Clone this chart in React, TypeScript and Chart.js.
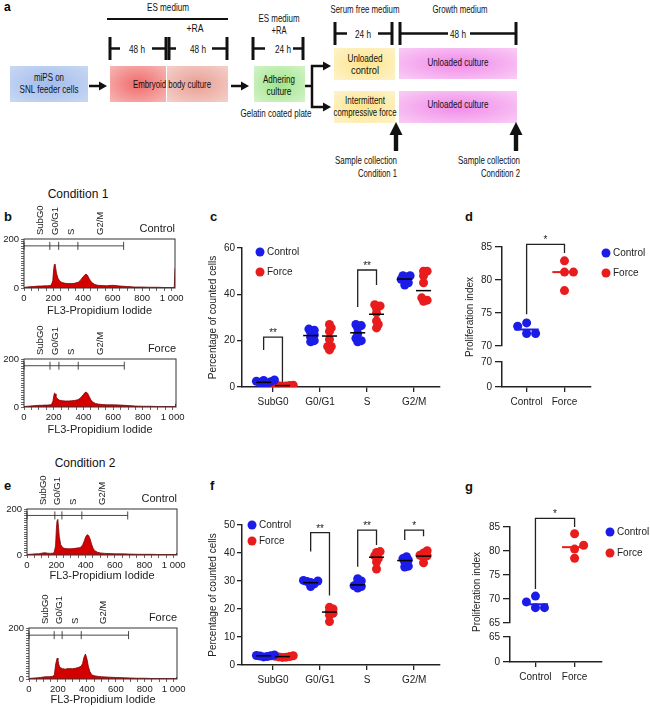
import React, { useEffect, useRef } from 'react';
import { Chart, registerables } from 'chart.js';

Chart.register(...registerables);

const FONT = "'Liberation Sans', Arial, Helvetica, sans-serif";
Chart.defaults.font.family = FONT;
Chart.defaults.color = '#222';

// ---------------- data ----------------
const PHASES = ['SubG0', 'G0/G1', 'S', 'G2/M'];
const GROUPS = ['Control', 'Force'];

// flow-cytometry histograms (FL3 channel vs counts)
const histX = [0, 20, 40, 60, 80, 100, 120, 140, 160, 175, 185, 195, 200, 205, 210, 215, 220, 230, 240, 250, 260, 280, 300, 320, 340, 360, 370, 380, 390, 400, 410, 420, 430, 440, 450, 460, 480, 500, 530, 560, 600, 650, 700, 750, 800, 850, 900, 950, 1000, 1018, 1023];
const c1ControlCounts = [2, 4, 5, 6, 7, 8, 8, 9, 9, 10, 12, 30, 70, 95, 98, 80, 60, 40, 30, 25, 22, 19, 18, 18, 19, 22, 25, 30, 38, 46, 52, 57, 52, 40, 30, 22, 14, 11, 10, 9, 11, 8, 6, 4, 4, 3, 3, 2, 2, 2, 80];
const c1ForceCounts = [2, 3, 4, 5, 6, 7, 7, 8, 8, 9, 10, 25, 45, 58, 55, 45, 38, 32, 28, 27, 26, 25, 25, 26, 27, 30, 33, 38, 45, 52, 60, 62, 55, 42, 30, 22, 15, 12, 10, 9, 9, 8, 6, 4, 3, 3, 2, 2, 2, 2, 15];
const c2ControlCounts = [2, 3, 4, 5, 5, 8, 10, 8, 7, 8, 10, 40, 110, 150, 155, 120, 80, 45, 35, 30, 28, 27, 27, 28, 30, 32, 35, 45, 60, 78, 88, 85, 70, 48, 30, 20, 12, 9, 7, 6, 5, 5, 4, 3, 3, 3, 2, 2, 2, 2, 10];
const c2ForceCounts = [2, 3, 4, 5, 6, 8, 9, 9, 10, 15, 60, 82, 75, 60, 50, 45, 42, 40, 40, 38, 40, 41, 40, 42, 45, 50, 60, 85, 98, 80, 50, 30, 20, 15, 13, 12, 10, 9, 8, 7, 6, 5, 4, 3, 3, 2, 2, 2, 2, 2, 8];

const gateNames = ['SubG0', 'G0/G1', 'S', 'G2/M'];
const gateLabelX = [110, 210, 318, 515];
const c1ControlGates = [0, 175, 235, 365, 675];
const c1ForceGates = [0, 175, 235, 365, 675];
const c2ControlGates = [0, 190, 238, 374, 687];
const c2ForceGates = [0, 174, 229, 361, 688];
const GATE_LEVEL = 172;

// percentage of counted cells, condition 1 (panel c)
const c1ControlSubG0 = [1.2, 1.8, 2.3, 2.8, 3.0, 1.5, 2.5];
const c1ControlG0G1 = [19.5, 20.0, 21.5, 22.5, 23.5, 24.5, 25.0];
const c1ControlS = [19.5, 20.0, 21.0, 23.0, 25.5, 26.5, 27.0];
const c1ControlG2M = [44.0, 45.0, 46.0, 46.5, 47.5, 48.0, 48.0];
const c1ForceSubG0 = [0.3, 0.5, 0.6, 0.8, 0.9, 0.4, 0.7];
const c1ForceG0G1 = [16.0, 17.5, 17.5, 20.5, 24.0, 25.5, 27.0];
const c1ForceS = [25.5, 27.0, 28.5, 32.0, 34.0, 35.0, 35.5];
const c1ForceG2M = [37.0, 37.5, 38.5, 45.0, 48.0, 50.0, 50.0];
const c1ControlLine = [2.0, 22.2, 23.4, 46.6];
const c1ForceLine = [0.6, 22.0, 31.4, 41.6];
const c1SigPhase = [1, 3];
const c1SigLeft = [16, 34.5];
const c1SigRight = [2, 44];
const c1SigTop = [21.5, 50.5];
const c1SigText = ['**', '**'];

// percentage of counted cells, condition 2 (panel f)
const c2ControlSubG0 = [2.9, 3.2, 3.4, 3.6, 3.3, 3.0];
const c2ControlG0G1 = [28.0, 29.0, 29.5, 29.8, 30.2, 30.0];
const c2ControlS = [27.5, 28.0, 28.3, 29.5, 30.0, 30.8];
const c2ControlG2M = [35.0, 35.3, 36.8, 37.5, 38.0, 38.7];
const c2ForceSubG0 = [2.7, 2.9, 3.1, 3.3, 3.0, 2.8];
const c2ForceG0G1 = [15.5, 17.8, 18.5, 19.2, 20.0, 20.6];
const c2ForceS = [34.3, 36.8, 38.0, 39.0, 40.2, 40.5];
const c2ForceG2M = [36.5, 38.5, 39.0, 39.2, 40.0, 40.8];
const c2ControlLine = [3.3, 29.4, 28.6, 37.3];
const c2ForceLine = [3.0, 18.9, 38.5, 38.9];
const c2SigPhase = [2, 3, 4];
const c2SigLeft = [40.5, 35.1, 44.6];
const c2SigRight = [24.8, 42.9, 46.0];
const c2SigTop = [47.3, 48.2, 48.2];
const c2SigText = ['**', '**', '*'];

// proliferation index
const dControl = [73.0, 71.9, 73.5, 71.9];
const dForce = [82.9, 81.2, 81.2, 78.4];
const dLines = [72.5, 81.2];
const dSig = { left: 74.8, right: 84.1, top: 85.4, text: '*' };
const gControl = [68.2, 69.4, 70.6, 68.2];
const gForce = [83.6, 81.2, 80.4, 78.5];
const gLines = [68.9, 80.8];
const gSig = { left: 72.1, right: 85.0, top: 86.8, text: '*' };

// ---------------- style ----------------
const AX = '#222';
const BLUE = '#1c1ce8';
const RED = '#e81c1c';
const R = 4.5;

// beeswarm layout: horizontal offsets (in x units) so dots do not pile up
function swarm(vals: number[], pxPerY: number, pxPerX: number, minD: number, step: number): number[] {
  const order = vals.map((_, i) => i).sort((a, b) => vals[a] - vals[b]);
  const placed: { x: number; y: number }[] = [];
  const res: number[] = new Array(vals.length).fill(0);
  for (const i of order) {
    const py = vals[i] * pxPerY;
    let best = 0;
    for (let k = 0; k < 60; k++) {
      const cand = k === 0 ? 0 : (k % 2 ? 1 : -1) * Math.ceil(k / 2) * step;
      if (placed.every((p) => Math.hypot(p.x - cand, p.y - py) >= minD)) {
        best = cand;
        break;
      }
    }
    placed.push({ x: best, y: py });
    res[i] = best / pxPerX;
  }
  return res;
}

function groupPoints(groups: number[][], base: number[], pxPerY: number, pxPerX: number, minD: number, step: number) {
  return groups.flatMap((vals, i) => {
    const off = swarm(vals, pxPerY, pxPerX, minD, step);
    return vals.map((v, j) => ({ x: base[i] + off[j], y: v }));
  });
}

function drawLegend(ctx: CanvasRenderingContext2D, x0: number, y0: number, gap: number) {
  GROUPS.forEach((g, i) => {
    ctx.fillStyle = i ? RED : BLUE;
    ctx.beginPath();
    ctx.arc(x0, y0 + i * gap, R, 0, Math.PI * 2);
    ctx.fill();
    ctx.fillStyle = AX;
    ctx.font = `10px ${FONT}`;
    ctx.textAlign = 'left';
    ctx.textBaseline = 'middle';
    ctx.fillText(g, x0 + 7, y0 + i * gap);
  });
}

function drawBracket(ctx: CanvasRenderingContext2D, xl: number, xr: number, yl: number, yr: number, yt: number, text: string) {
  ctx.strokeStyle = AX;
  ctx.lineWidth = 1.3;
  ctx.beginPath();
  ctx.moveTo(xl, yl);
  ctx.lineTo(xl, yt);
  ctx.lineTo(xr, yt);
  ctx.lineTo(xr, yr);
  ctx.stroke();
  ctx.fillStyle = AX;
  ctx.font = `10px ${FONT}`;
  ctx.textAlign = 'center';
  ctx.textBaseline = 'alphabetic';
  ctx.fillText(text, (xl + xr) / 2, yt - 1);
}

// ---------------- chart configs ----------------
function histConfig(counts: number[], gates: number[], label: string, pad: { top: number; right: number }, xH: number) {
  return {
    type: 'line',
    data: {
      datasets: [
        {
          data: histX.map((x, i) => ({ x, y: counts[i] })),
          fill: 'origin',
          borderColor: '#7a0000',
          backgroundColor: '#d40000',
          borderWidth: 0.8,
          pointRadius: 0,
          tension: 0,
        },
      ],
    },
    options: {
      responsive: false,
      animation: false,
      events: [],
      layout: { padding: { top: pad.top, right: pad.right, left: 0, bottom: 0 } },
      plugins: { legend: { display: false }, tooltip: { enabled: false } },
      scales: {
        x: {
          type: 'linear',
          min: 0,
          max: 1023,
          afterBuildTicks: (s: any) => {
            const t = [];
            for (let v = 0; v <= 1000; v += 50) t.push({ value: v });
            s.ticks = t;
          },
          ticks: {
            autoSkip: false,
            maxRotation: 0,
            padding: 2,
            font: { size: 9.5 },
            color: AX,
            callback: (v: number) => (v % 200 === 0 ? (v === 1000 ? '1 000' : String(v)) : ''),
          },
          grid: { display: true, drawOnChartArea: false, tickLength: 3, color: '#444', lineWidth: 0.8 },
          border: { display: false },
          title: { display: true, text: 'FL3-Propidium Iodide', font: { size: 11 }, color: AX, padding: { top: 0, bottom: 0 } },
          afterFit: (s: any) => {
            s.height = xH;
          },
        },
        y: {
          min: 0,
          max: 200,
          afterBuildTicks: (s: any) => {
            const t = [];
            for (let v = 0; v <= 200; v += 10) t.push({ value: v });
            s.ticks = t;
          },
          ticks: {
            autoSkip: false,
            padding: 2,
            font: { size: 9.5 },
            color: AX,
            callback: (v: number) => (v === 0 || v === 200 ? String(v) : ''),
          },
          grid: { display: true, drawOnChartArea: false, tickLength: 3, color: '#444', lineWidth: 0.8 },
          border: { display: false },
          afterFit: (s: any) => {
            s.width = 24;
          },
        },
      },
    },
    plugins: [
      {
        id: 'histDecor',
        afterDraw(chart: any) {
          const { ctx, chartArea: a, scales } = chart;
          const x = scales.x, y = scales.y;
          ctx.save();
          ctx.strokeStyle = '#333';
          ctx.lineWidth = 1;
          ctx.strokeRect(a.left, a.top, a.right - a.left, a.bottom - a.top);
          const gy = y.getPixelForValue(GATE_LEVEL);
          ctx.lineWidth = 0.9;
          ctx.beginPath();
          ctx.moveTo(x.getPixelForValue(gates[0]), gy);
          ctx.lineTo(x.getPixelForValue(gates[gates.length - 1]), gy);
          gates.forEach((g) => {
            const px = x.getPixelForValue(g);
            ctx.moveTo(px, gy - 4);
            ctx.lineTo(px, gy + 4);
          });
          ctx.stroke();
          ctx.fillStyle = AX;
          ctx.font = `9.5px ${FONT}`;
          gateNames.forEach((n, i) => {
            ctx.save();
            ctx.translate(x.getPixelForValue(gateLabelX[i]), a.top - 4);
            ctx.rotate(-Math.PI / 2);
            ctx.textAlign = 'left';
            ctx.textBaseline = 'middle';
            ctx.fillText(n, 0, 0);
            ctx.restore();
          });
          ctx.font = `11px ${FONT}`;
          ctx.textAlign = 'right';
          ctx.textBaseline = 'middle';
          ctx.fillText(label, a.right, a.top - 10);
          ctx.restore();
        },
      },
    ],
  };
}

function dotConfig(p: {
  ctrl: number[][];
  force: number[][];
  ctrlLine: number[];
  forceLine: number[];
  yMax: number;
  yStep: number;
  sigPhase: number[];
  sigLeft: number[];
  sigRight: number[];
  sigTop: number[];
  sigText: string[];
  legend: { dx: number; dy: number; gap: number };
  padTop: number;
  pxPerY: number;
}) {
  const SIDE = 0.2;
  const pxPerX = 47;
  const cBase = PHASES.map((_, i) => i + 1 - SIDE);
  const fBase = PHASES.map((_, i) => i + 1 + SIDE);
  return {
    type: 'scatter',
    data: {
      datasets: [
        { label: 'Control', data: groupPoints(p.ctrl, cBase, p.pxPerY, pxPerX, 3.6, 1.8), backgroundColor: BLUE, borderWidth: 0, pointRadius: R },
        { label: 'Force', data: groupPoints(p.force, fBase, p.pxPerY, pxPerX, 3.6, 1.8), backgroundColor: RED, borderWidth: 0, pointRadius: R },
      ],
    },
    options: {
      responsive: false,
      animation: false,
      events: [],
      layout: { padding: { top: p.padTop, right: 5, left: 0, bottom: 0 } },
      plugins: { legend: { display: false }, tooltip: { enabled: false } },
      scales: {
        x: {
          type: 'linear',
          min: 0.34,
          max: 4.55,
          afterBuildTicks: (s: any) => {
            s.ticks = PHASES.map((_, i) => ({ value: i + 1 }));
          },
          ticks: { autoSkip: false, maxRotation: 0, padding: 4, font: { size: 10 }, color: AX, callback: (v: number) => PHASES[v - 1] },
          grid: { display: true, drawOnChartArea: false, tickLength: 5, color: AX, lineWidth: 1.3 },
          border: { display: true, color: AX, width: 1.5 },
          afterFit: (s: any) => {
            s.height = 25;
          },
        },
        y: {
          min: 0,
          max: p.yMax,
          afterBuildTicks: (s: any) => {
            const t = [];
            for (let v = 0; v <= p.yMax; v += p.yStep) t.push({ value: v });
            s.ticks = t;
          },
          ticks: { autoSkip: false, padding: 2, font: { size: 10 }, color: AX },
          grid: { display: true, drawOnChartArea: false, tickLength: 5, color: AX, lineWidth: 1.3 },
          border: { display: true, color: AX, width: 1.5 },
          title: { display: true, text: 'Percentage of counted cells', font: { size: 10 }, color: AX, padding: { top: 12, bottom: 0 } },
          afterFit: (s: any) => {
            s.width = 47;
          },
        },
      },
    },
    plugins: [
      {
        id: 'dotDecor',
        afterDatasetsDraw(chart: any) {
          const { ctx, chartArea: a, scales } = chart;
          const x = scales.x, y = scales.y;
          ctx.save();
          ctx.strokeStyle = '#000';
          ctx.lineWidth = 1.5;
          const drawLines = (vals: number[], base: number[]) =>
            vals.forEach((v, i) => {
              const py = y.getPixelForValue(v);
              ctx.beginPath();
              ctx.moveTo(x.getPixelForValue(base[i] - 0.16), py);
              ctx.lineTo(x.getPixelForValue(base[i] + 0.16), py);
              ctx.stroke();
            });
          drawLines(p.ctrlLine, cBase);
          drawLines(p.forceLine, fBase);
          p.sigPhase.forEach((ph, i) => {
            drawBracket(
              ctx,
              x.getPixelForValue(ph - SIDE),
              x.getPixelForValue(ph + SIDE),
              y.getPixelForValue(p.sigLeft[i]),
              y.getPixelForValue(p.sigRight[i]),
              y.getPixelForValue(p.sigTop[i]),
              p.sigText[i]
            );
          });
          drawLegend(ctx, a.left + p.legend.dx, a.top + p.legend.dy, p.legend.gap);
          ctx.restore();
        },
      },
    ],
  };
}

const PI_XMIN = 0.35;
const PI_XMAX = 2.7;

function piTopConfig(p: {
  ctrl: number[];
  force: number[];
  lines: number[];
  sig: { left: number; right: number; top: number; text: string };
  yMin: number;
  padTop: number;
  padRight: number;
  yW: number;
  pxPerY: number;
  pxPerX: number;
  legend: { dx: number; dy: number; gap: number };
}) {
  const ticks: number[] = [];
  for (let v = p.yMin; v <= 85; v += 5) ticks.push(v);
  return {
    type: 'scatter',
    data: {
      datasets: [
        { label: 'Control', data: groupPoints([p.ctrl], [1], p.pxPerY, p.pxPerX, 9, 9), backgroundColor: BLUE, borderWidth: 0, pointRadius: R },
        { label: 'Force', data: groupPoints([p.force], [2], p.pxPerY, p.pxPerX, 9, 9), backgroundColor: RED, borderWidth: 0, pointRadius: R },
      ],
    },
    options: {
      responsive: false,
      animation: false,
      events: [],
      layout: { padding: { top: p.padTop, right: p.padRight, left: 0, bottom: 6 } },
      plugins: { legend: { display: false }, tooltip: { enabled: false } },
      scales: {
        x: { type: 'linear', display: false, min: PI_XMIN, max: PI_XMAX },
        y: {
          min: p.yMin,
          max: 85,
          afterBuildTicks: (s: any) => {
            s.ticks = ticks.map((v) => ({ value: v }));
          },
          ticks: { autoSkip: false, padding: 3, font: { size: 10 }, color: AX },
          grid: { display: true, drawOnChartArea: false, tickLength: 7, color: AX, lineWidth: 1.3 },
          border: { display: true, color: AX, width: 1.5 },
          afterFit: (s: any) => {
            s.width = p.yW;
          },
        },
      },
    },
    plugins: [
      {
        id: 'piDecor',
        afterDatasetsDraw(chart: any) {
          const { ctx, chartArea: a, scales } = chart;
          const x = scales.x, y = scales.y;
          ctx.save();
          ctx.lineWidth = 2;
          p.lines.forEach((v, i) => {
            ctx.strokeStyle = i ? RED : BLUE;
            const py = y.getPixelForValue(v);
            ctx.beginPath();
            ctx.moveTo(x.getPixelForValue(i + 1 - 0.32), py);
            ctx.lineTo(x.getPixelForValue(i + 1 + 0.32), py);
            ctx.stroke();
          });
          drawBracket(
            ctx,
            x.getPixelForValue(1),
            x.getPixelForValue(2),
            y.getPixelForValue(p.sig.left),
            y.getPixelForValue(p.sig.right),
            y.getPixelForValue(p.sig.top),
            p.sig.text
          );
          drawLegend(ctx, a.right + p.legend.dx, a.top + p.legend.dy, p.legend.gap);
          ctx.restore();
        },
      },
    ],
  };
}

function piBottomConfig(p: { yTop: number; padRight: number; yW: number }) {
  return {
    type: 'scatter',
    data: { datasets: [] },
    options: {
      responsive: false,
      animation: false,
      events: [],
      layout: { padding: { top: 10, right: p.padRight, left: 0, bottom: 0 } },
      plugins: { legend: { display: false }, tooltip: { enabled: false } },
      scales: {
        x: {
          type: 'linear',
          min: PI_XMIN,
          max: PI_XMAX,
          afterBuildTicks: (s: any) => {
            s.ticks = GROUPS.map((_, i) => ({ value: i + 1 }));
          },
          ticks: { autoSkip: false, maxRotation: 0, padding: 4, font: { size: 10 }, color: AX, callback: (v: number) => GROUPS[v - 1] },
          grid: { display: true, drawOnChartArea: false, tickLength: 5, color: AX, lineWidth: 1.3 },
          border: { display: true, color: AX, width: 1.5 },
          afterFit: (s: any) => {
            s.height = 25;
          },
        },
        y: {
          min: 0,
          max: p.yTop,
          afterBuildTicks: (s: any) => {
            s.ticks = [{ value: 0 }, { value: p.yTop }];
          },
          ticks: { autoSkip: false, padding: 3, font: { size: 10 }, color: AX },
          grid: { display: true, drawOnChartArea: false, tickLength: 7, color: AX, lineWidth: 1.3 },
          border: { display: true, color: AX, width: 1.5 },
          afterFit: (s: any) => {
            s.width = p.yW;
          },
        },
      },
    },
  };
}

// ---------------- components ----------------
function ChartCanvas({ left, top, width, height, make }: { left: number; top: number; width: number; height: number; make: () => any }) {
  const ref = useRef<HTMLCanvasElement>(null);
  useEffect(() => {
    const chart = new Chart(ref.current as HTMLCanvasElement, make());
    return () => chart.destroy();
  }, []);
  return <canvas ref={ref} width={width} height={height} style={{ position: 'absolute', left, top, width, height }} />;
}

function T({ x, y, children, size = 10, anchor = 'middle', bold = false }: any) {
  const tx = anchor === 'middle' ? '-50%' : anchor === 'end' ? '-100%' : '0';
  return (
    <div
      style={{
        position: 'absolute',
        left: x,
        top: y,
        transform: `translate(${tx}, -50%)`,
        fontSize: size,
        fontWeight: bold ? 'bold' : 'normal',
        whiteSpace: 'nowrap',
        lineHeight: 1,
        color: '#111',
      }}
    >
      {children}
    </div>
  );
}

function RTitle({ x, y, text }: { x: number; y: number; text: string }) {
  return (
    <div
      style={{
        position: 'absolute',
        left: x,
        top: y,
        transform: 'translate(-50%, -50%) rotate(-90deg)',
        fontSize: 10,
        whiteSpace: 'nowrap',
        lineHeight: 1,
        color: AX,
      }}
    >
      {text}
    </div>
  );
}

// schematic text, compressed to the width it has in the figure
function ST({ x, y, w, children, anchor = 'middle' }: any) {
  return (
    <text
      x={x}
      y={y}
      textAnchor={anchor}
      dominantBaseline="central"
      fontSize={10.5}
      fill="#111"
      textLength={w}
      lengthAdjust="spacingAndGlyphs"
    >
      {children}
    </text>
  );
}

function Bracket({ x1, x2, y1, y2, lx, gl, gr, label }: any) {
  const ym = (y1 + y2) / 2;
  return (
    <g>
      <line x1={x1} y1={y1} x2={x1} y2={y2} stroke="#111" strokeWidth={3} />
      <line x1={x2} y1={y1} x2={x2} y2={y2} stroke="#111" strokeWidth={3} />
      <line x1={x1} y1={ym} x2={gl} y2={ym} stroke="#111" strokeWidth={2.5} />
      <line x1={gr} y1={ym} x2={x2} y2={ym} stroke="#111" strokeWidth={2.5} />
      <ST x={lx} y={ym} w={16}>{label}</ST>
    </g>
  );
}

function ArrowR({ x1, x2, y }: any) {
  return (
    <g>
      <line x1={x1} y1={y} x2={x2 - 6} y2={y} stroke="#111" strokeWidth={2.5} />
      <polygon points={`${x2},${y} ${x2 - 8},${y - 4.5} ${x2 - 8},${y + 4.5}`} fill="#111" />
    </g>
  );
}

function ArrowUp({ x, y1, y2 }: any) {
  return (
    <g>
      <rect x={x - 2.2} y={y2 + 10} width={4.4} height={y1 - y2 - 10} fill="#111" />
      <polygon points={`${x},${y2} ${x - 6.5},${y2 + 13} ${x + 6.5},${y2 + 13}`} fill="#111" />
    </g>
  );
}

function Grad({ id, c1, c2 }: any) {
  return (
    <radialGradient id={id} cx="50%" cy="50%" r="65%">
      <stop offset="0%" stopColor={c1} />
      <stop offset="100%" stopColor={c2} />
    </radialGradient>
  );
}

function Schematic() {
  return (
    <svg width={650} height={182} style={{ position: 'absolute', left: 0, top: 0 }} fontFamily={FONT}>
      <defs>
        <Grad id="gBlue" c1="#a2bced" c2="#c6d6f3" />
        <Grad id="gRed" c1="#f06a6a" c2="#f6b2b0" />
        <Grad id="gSalmon" c1="#e89e94" c2="#f3cdc6" />
        <Grad id="gGreen" c1="#9fe58a" c2="#d0f2c4" />
        <Grad id="gYellow" c1="#fde48a" c2="#fdf2c6" />
        <Grad id="gPink" c1="#f08ae8" c2="#f9c8f5" />
      </defs>
      <text x={4} y={7} fontSize={12} fontWeight="bold" dominantBaseline="central">a</text>

      <ST x={168} y={7} w={42}>ES medium</ST>
      <line x1={107} y1={19} x2={228} y2={19} stroke="#111" strokeWidth={2} />
      <ST x={195} y={28} w={17}>+RA</ST>
      <Bracket x1={110} x2={166} y1={37} y2={60} lx={137} gl={120} gr={152} label="48 h" />
      <Bracket x1={169} x2={227} y1={37} y2={60} lx={198} gl={176} gr={212} label="48 h" />

      <rect x={10} y={66} width={78} height={36} fill="url(#gBlue)" />
      <ST x={49} y={77} w={30}>miPS on</ST>
      <ST x={49} y={89} w={59}>SNL feeder cells</ST>
      <ArrowR x1={89} x2={107} y={86} />

      <rect x={110} y={66} width={56} height={36} fill="url(#gRed)" />
      <rect x={167} y={66} width={61} height={36} fill="url(#gSalmon)" />
      <ST x={172} y={84} w={78}>Embryoid body culture</ST>
      <ArrowR x1={231} x2={249} y={86} />

      <ST x={279} y={18} w={41}>ES medium</ST>
      <ST x={279} y={30} w={15}>+RA</ST>
      <Bracket x1={253} x2={303} y1={37} y2={60} lx={283} gl={265} gr={293} label="24 h" />
      <rect x={254} y={66} width={51} height={36} fill="url(#gGreen)" />
      <ST x={279} y={79} w={32}>Adhering</ST>
      <ST x={279} y={91} w={25}>culture</ST>
      <ST x={276} y={113} w={71}>Gelatin coated plate</ST>

      <line x1={305} y1={86} x2={313} y2={86} stroke="#111" strokeWidth={2.5} />
      <line x1={312} y1={65} x2={312} y2={108} stroke="#111" strokeWidth={2.5} />
      <ArrowR x1={311} x2={331} y={66} />
      <ArrowR x1={311} x2={331} y={107} />

      <ST x={365} y={9} w={69}>Serum free medium</ST>
      <Bracket x1={335} x2={392} y1={22} y2={45} lx={363} gl={347} gr={378} label="24 h" />
      <rect x={334} y={48} width={61} height={32} fill="url(#gYellow)" />
      <ST x={365} y={58} w={35}>Unloaded</ST>
      <ST x={365} y={70} w={28}>control</ST>
      <rect x={334} y={91} width={61} height={32} fill="url(#gYellow)" />
      <ST x={365} y={100} w={40}>Intermittent</ST>
      <ST x={365} y={112} w={63}>compressive force</ST>

      <ST x={460} y={9} w={55}>Growth medium</ST>
      <Bracket x1={400} x2={516} y1={22} y2={45} lx={458} gl={448} gr={470} label="48 h" />
      <rect x={399} y={48} width={118} height={31} fill="url(#gPink)" />
      <ST x={458} y={62} w={61}>Unloaded culture</ST>
      <rect x={399} y={91} width={118} height={32} fill="url(#gPink)" />
      <ST x={458} y={104} w={61}>Unloaded culture</ST>

      <ArrowUp x={396} y1={151} y2={122} />
      <ArrowUp x={516} y1={151} y2={122} />
      <ST x={397} y={160} w={62} anchor="end">Sample collection</ST>
      <ST x={397} y={173} w={39} anchor="end">Condition 1</ST>
      <ST x={520} y={160} w={62} anchor="end">Sample collection</ST>
      <ST x={520} y={173} w={39} anchor="end">Condition 2</ST>
    </svg>
  );
}

export default function App() {
  return (
    <div
      style={{
        position: 'absolute',
        left: 0,
        top: 0,
        width: 650,
        height: 707,
        background: '#fff',
        fontFamily: FONT,
        overflow: 'hidden',
      }}
    >
      <Schematic />

      <T x={78} y={194} size={12}>Condition 1</T>
      <T x={85} y={463} size={12}>Condition 2</T>
      <T x={4} y={216} size={13} anchor="start" bold>b</T>
      <T x={4} y={485} size={13} anchor="start" bold>e</T>
      <T x={210} y={216} size={13} anchor="start" bold>c</T>
      <T x={210} y={485} size={13} anchor="start" bold>f</T>
      <T x={465} y={216} size={13} anchor="start" bold>d</T>
      <T x={465} y={486} size={13} anchor="start" bold>g</T>

      <ChartCanvas left={0} top={200} width={190} height={118} make={() => histConfig(c1ControlCounts, c1ControlGates, 'Control', { top: 39, right: 15 }, 30)} />
      <ChartCanvas left={0} top={320} width={190} height={117} make={() => histConfig(c1ForceCounts, c1ForceGates, 'Force', { top: 39, right: 14 }, 30)} />
      <ChartCanvas left={3} top={470} width={190} height={113} make={() => histConfig(c2ControlCounts, c2ControlGates, 'Control', { top: 39, right: 16 }, 28)} />
      <ChartCanvas left={5} top={589} width={190} height={118} make={() => histConfig(c2ForceCounts, c2ForceGates, 'Force', { top: 39, right: 18 }, 28)} />

      <ChartCanvas
        left={195}
        top={240}
        width={250}
        height={172}
        make={() =>
          dotConfig({
            ctrl: [c1ControlSubG0, c1ControlG0G1, c1ControlS, c1ControlG2M],
            force: [c1ForceSubG0, c1ForceG0G1, c1ForceS, c1ForceG2M],
            ctrlLine: c1ControlLine,
            forceLine: c1ForceLine,
            yMax: 60,
            yStep: 20,
            sigPhase: c1SigPhase,
            sigLeft: c1SigLeft,
            sigRight: c1SigRight,
            sigTop: c1SigTop,
            sigText: c1SigText,
            legend: { dx: 18, dy: 4, gap: 20 },
            padTop: 8,
            pxPerY: 2.32,
          })
        }
      />
      <ChartCanvas
        left={195}
        top={515}
        width={250}
        height={175}
        make={() =>
          dotConfig({
            ctrl: [c2ControlSubG0, c2ControlG0G1, c2ControlS, c2ControlG2M],
            force: [c2ForceSubG0, c2ForceG0G1, c2ForceS, c2ForceG2M],
            ctrlLine: c2ControlLine,
            forceLine: c2ForceLine,
            yMax: 50,
            yStep: 10,
            sigPhase: c2SigPhase,
            sigLeft: c2SigLeft,
            sigRight: c2SigRight,
            sigTop: c2SigTop,
            sigText: c2SigText,
            legend: { dx: 10, dy: 0, gap: 16 },
            padTop: 10,
            pxPerY: 2.8,
          })
        }
      />

      <ChartCanvas
        left={440}
        top={230}
        width={210}
        height={125}
        make={() =>
          piTopConfig({
            ctrl: dControl,
            force: dForce,
            lines: dLines,
            sig: dSig,
            yMin: 70,
            padTop: 17,
            padRight: 59,
            yW: 62,
            pxPerY: 6.8,
            pxPerX: 38,
            legend: { dx: 15, dy: 6, gap: 20 },
          })
        }
      />
      <ChartCanvas left={440} top={352} width={210} height={60} make={() => piBottomConfig({ yTop: 70, padRight: 59, yW: 62 })} />
      <RTitle x={470} y={317} text="Proliferation index" />

      <ChartCanvas
        left={440}
        top={505}
        width={210}
        height={127}
        make={() =>
          piTopConfig({
            ctrl: gControl,
            force: gForce,
            lines: gLines,
            sig: gSig,
            yMin: 65,
            padTop: 22,
            padRight: 48,
            yW: 70,
            pxPerY: 4.95,
            pxPerX: 39,
            legend: { dx: 8, dy: 5, gap: 21 },
          })
        }
      />
      <ChartCanvas left={440} top={627} width={210} height={60} make={() => piBottomConfig({ yTop: 65, padRight: 48, yW: 70 })} />
      <RTitle x={477} y={592} text="Proliferation index" />
    </div>
  );
}
